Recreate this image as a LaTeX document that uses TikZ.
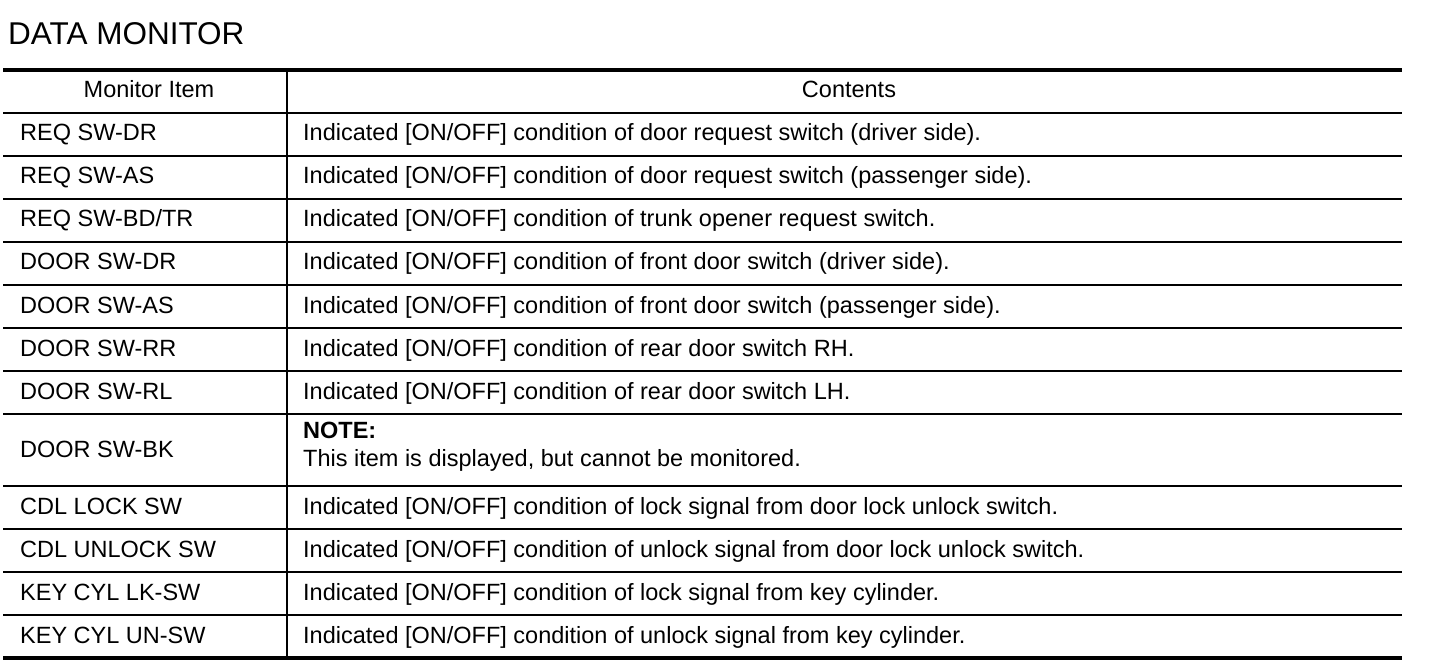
\documentclass[tikz,border=0pt]{standalone}
\usepackage{fontspec}
\setmainfont{Liberation Sans}
\begin{document}
\begin{tikzpicture}[x=1pt,y=-1pt,
  thickrule/.style={line width=4pt},
  headrule/.style={line width=2.6pt},
  thinrule/.style={line width=1.6pt},
  celltext/.style={anchor=base west,inner sep=0pt,font=\fontsize{23.5}{26}\selectfont},
  headtext/.style={anchor=base,inner sep=0pt,font=\fontsize{23.5}{26}\selectfont},
  titletext/.style={anchor=base west,inner sep=0pt,font=\fontsize{31.5}{36}\selectfont}]
\useasboundingbox (0,0) rectangle (1440,660);
\fill[white] (0,0) rectangle (1440,660);
\node[titletext] (title) at (8,45) {DATA MONITOR};
% rules
\coordinate (tl) at (3,70); \coordinate (tr) at (1402,70);
\coordinate (bl) at (3,658); \coordinate (br) at (1402,658);
\coordinate (vt) at (287,70); \coordinate (vb) at (287,658);
\draw[thickrule] (tl) -- (tr);
\draw[thickrule] (bl) -- (br);
\draw[line width=2pt] (vt) -- (vb);
\coordinate (h1) at (3,113); \coordinate (h2) at (1402,113);
\draw[headrule] (h1) -- (h2);
\foreach \yy in {156,199,242,285,328,371,414,486,529,572,615}
  \draw[thinrule] (3,\yy) -- (1402,\yy);
% header
\node[headtext] (hitem) at (149,98) {Monitor Item};
\node[headtext] (hcont) at (849,98) {Contents};
% rows
\node[celltext] (i1) at (20,141) {REQ SW-DR};
\node[celltext] (c1) at (303,141) {Indicated [ON/OFF] condition of door request switch (driver side).};
\node[celltext] (i2) at (20,184) {REQ SW-AS};
\node[celltext] (c2) at (303,184) {Indicated [ON/OFF] condition of door request switch (passenger side).};
\node[celltext] (i3) at (20,227) {REQ SW-BD/TR};
\node[celltext] (c3) at (303,227) {Indicated [ON/OFF] condition of trunk opener request switch.};
\node[celltext] (i4) at (20,270) {DOOR SW-DR};
\node[celltext] (c4) at (303,270) {Indicated [ON/OFF] condition of front door switch (driver side).};
\node[celltext] (i5) at (20,313) {DOOR SW-AS};
\node[celltext] (c5) at (303,313) {Indicated [ON/OFF] condition of front door switch (passenger side).};
\node[celltext] (i6) at (20,356) {DOOR SW-RR};
\node[celltext] (c6) at (303,356) {Indicated [ON/OFF] condition of rear door switch RH.};
\node[celltext] (i7) at (20,399) {DOOR SW-RL};
\node[celltext] (c7) at (303,399) {Indicated [ON/OFF] condition of rear door switch LH.};
\node[celltext] (i8) at (20,457) {DOOR SW-BK};
\node[celltext,font=\fontsize{23.5}{26}\selectfont\bfseries] (c8a) at (303,438) {NOTE:};
\node[celltext] (c8b) at (303,466) {This item is displayed, but cannot be monitored.};
\node[celltext] (i9) at (20,514) {CDL LOCK SW};
\node[celltext] (c9) at (303,514) {Indicated [ON/OFF] condition of lock signal from door lock unlock switch.};
\node[celltext] (i10) at (20,557) {CDL UNLOCK SW};
\node[celltext] (c10) at (303,557) {Indicated [ON/OFF] condition of unlock signal from door lock unlock switch.};
\node[celltext] (i11) at (20,600) {KEY CYL LK-SW};
\node[celltext] (c11) at (303,600) {Indicated [ON/OFF] condition of lock signal from key cylinder.};
\node[celltext] (i12) at (20,643) {KEY CYL UN-SW};
\node[celltext] (c12) at (303,643) {Indicated [ON/OFF] condition of unlock signal from key cylinder.};
\end{tikzpicture}
\end{document}
